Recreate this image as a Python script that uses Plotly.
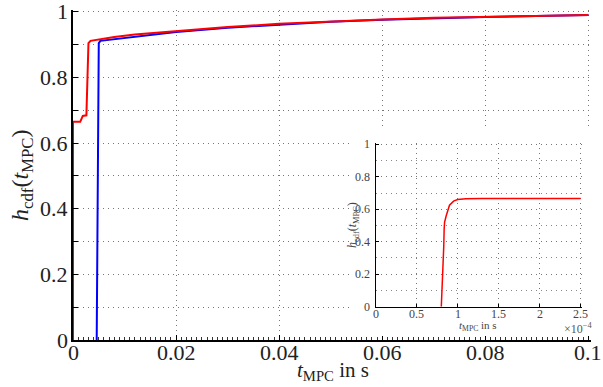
import plotly.graph_objects as go

# ---- data ----
red_t = [0, 0, 0.0014, 0.0017, 0.0019, 0.0026, 0.0028, 0.0030, 0.0034, 0.005, 0.008, 0.012,
         0.02, 0.03, 0.04, 0.05, 0.06, 0.07, 0.08, 0.09, 0.1]
red_h = [0, 0.665, 0.665, 0.675, 0.683, 0.685, 0.80, 0.905, 0.912, 0.916, 0.924, 0.931,
         0.942, 0.954, 0.964, 0.971, 0.977, 0.982, 0.985, 0.988, 0.991]
blue_t = [0.0046, 0.0048, 0.0050, 0.0053, 0.007, 0.01, 0.015, 0.02, 0.03, 0.04, 0.05,
          0.06, 0.07, 0.08, 0.09, 0.1]
blue_h = [0, 0.6, 0.905, 0.912, 0.915, 0.920, 0.928, 0.939, 0.952, 0.962, 0.970,
          0.976, 0.981, 0.985, 0.988, 0.991]
inset_t = [0.80e-4, 0.81e-4, 0.82e-4, 0.83e-4, 0.835e-4, 0.84e-4, 0.86e-4, 0.88e-4, 0.90e-4,
           0.95e-4, 1.0e-4, 1.1e-4, 1.3e-4, 2.5e-4]
inset_h = [0, 0.10, 0.18, 0.37, 0.48, 0.52, 0.56, 0.60, 0.625, 0.65, 0.66, 0.665, 0.667, 0.667]

main_xticks = [0, 0.02, 0.04, 0.06, 0.08, 0.1]
main_xlabels = ["0", "0.02", "0.04", "0.06", "0.08", "0.1"]
main_yticks = [0, 0.2, 0.4, 0.6, 0.8, 1]
main_ylabels = ["0", "0.2", "0.4", "0.6", "0.8", "1"]
inset_xticks = [0, 0.5e-4, 1e-4, 1.5e-4, 2e-4, 2.5e-4]
inset_xlabels = ["0", "0.5", "1", "1.5", "2", "2.5"]

FONT = "Times New Roman"
W, H = 603, 387


def px(x):
    return x / W


def py(y):
    return (H - y) / H


fig = go.Figure()
fig.add_trace(go.Scatter(x=blue_t, y=blue_h, mode="lines", line=dict(color="#0000ff", width=2),
                         xaxis="x", yaxis="y", showlegend=False))
fig.add_trace(go.Scatter(x=red_t, y=red_h, mode="lines", line=dict(color="#ff0000", width=2),
                         xaxis="x", yaxis="y", showlegend=False))
fig.add_trace(go.Scatter(x=[0], y=[0], mode="markers", marker=dict(opacity=0),
                         xaxis="x2", yaxis="y2", showlegend=False, hoverinfo="skip"))
fig.add_trace(go.Scatter(x=inset_t, y=inset_h, mode="lines", line=dict(color="#ff0000", width=1.5),
                         xaxis="x3", yaxis="y3", showlegend=False))

DOT = "1px,4px"
grid = dict(showgrid=True, gridcolor="#777777", griddash=DOT, gridwidth=1, automargin=False,
            showticklabels=False, zeroline=False)

fig.update_layout(
    template="none",
    width=W, height=H, margin=dict(l=0, r=0, t=0, b=0, autoexpand=False),
    paper_bgcolor="white", plot_bgcolor="white",
    font=dict(family=FONT, color="#222222"),
    xaxis=dict(domain=[px(73), px(590.5)], range=[0, 0.1004], tickvals=main_xticks,
               ticks="inside", ticklen=5, tickcolor="black", showline=True, linecolor="black", linewidth=1.5,
               minor=dict(dtick=0.001, ticks="inside", ticklen=3, tickcolor="#333", showgrid=False),
               anchor="y", **grid),
    yaxis=dict(domain=[py(340), py(10)], range=[0, 1.006], tickvals=main_yticks,
               ticks="inside", ticklen=5, tickcolor="black", showline=True, linecolor="black", linewidth=1.5,
               minor=dict(dtick=0.1, ticks="inside", ticklen=5, tickcolor="black", showgrid=True,
                          gridcolor="#777777", griddash=DOT),
               anchor="x", **grid),
    xaxis2=dict(domain=[px(349), 1.0], range=[0, 1], visible=False, anchor="y2", automargin=False),
    yaxis2=dict(domain=[py(336), py(128)], range=[0, 1], visible=False, anchor="x2", automargin=False),
    xaxis3=dict(domain=[px(375.7), px(582.3)], range=[0, 2.52e-4], tickvals=inset_xticks,
                ticks="inside", ticklen=3, tickcolor="black", showline=True, linecolor="black", linewidth=1,
                anchor="y3", **grid),
    yaxis3=dict(domain=[py(306.7), py(142.7)], range=[0, 1.01], tickvals=main_yticks,
                ticks="inside", ticklen=3, tickcolor="black", showline=True, linecolor="black", linewidth=1,
                anchor="x3",
                minor=dict(dtick=0.1, showgrid=True, gridcolor="#888888", griddash=DOT),
                **grid),
)

# tick labels (placed through the axes' own scales)
for v, t in zip(main_xticks, main_xlabels):
    fig.add_annotation(x=v, y=0, xref="x", yref="y", text=t, showarrow=False, xanchor="center",
                       yanchor="middle", yshift=-12, font=dict(size=22, family=FONT, color="#222"))
for v, t in zip(main_yticks, main_ylabels):
    fig.add_annotation(x=0, y=v, xref="x", yref="y", text=t, showarrow=False, xanchor="right",
                       yanchor="middle", xshift=-3, font=dict(size=22, family=FONT, color="#222"))
for v, t in zip(inset_xticks, inset_xlabels):
    fig.add_annotation(x=v, y=0, xref="x3", yref="y3", text=t, showarrow=False, xanchor="center",
                       yanchor="middle", yshift=-7, font=dict(size=12, family=FONT, color="#444"))
for v, t in zip(main_yticks, main_ylabels):
    fig.add_annotation(x=0, y=v, xref="x3", yref="y3", text=t, showarrow=False, xanchor="right",
                       yanchor="middle", xshift=-4, font=dict(size=12, family=FONT, color="#444"))

ann = dict(xref="paper", yref="paper", showarrow=False, xanchor="center", yanchor="middle")
fig.add_annotation(x=px(22), y=py(175), textangle=-90,
                   text="<i>h</i><sub>cdf</sub>(<i>t</i><sub>MPC</sub>)",
                   font=dict(size=24, family=FONT, color="#222"), **ann)
fig.add_annotation(x=px(333), y=py(371),
                   text="<i>t</i><sub>MPC</sub> in s", font=dict(size=21, family=FONT, color="#222"), **ann)
fig.add_annotation(x=px(353), y=py(225), textangle=-90,
                   text="<i>h</i><sub>cdf</sub>(<i>t</i><sub>MPC</sub>)",
                   font=dict(size=12, family=FONT, color="#444"), **ann)
fig.add_annotation(x=px(478), y=py(326),
                   text="<i>t</i><sub>MPC</sub> in s", font=dict(size=11, family=FONT, color="#444"), **ann)
fig.add_annotation(x=px(578), y=py(328),
                   text="×10<sup>−4</sup>", font=dict(size=12, family=FONT, color="#555"), **ann)

fig.write_html("out.html")
